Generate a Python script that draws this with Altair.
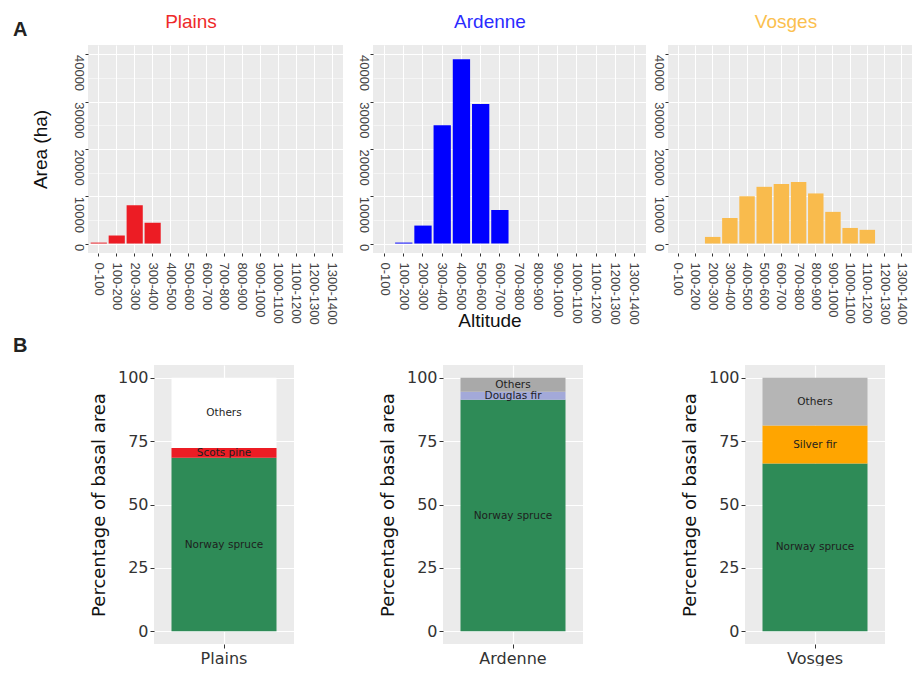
import altair as alt
import pandas as pd

# ---------------- data ----------------
altitude = ["0-100", "100-200", "200-300", "300-400", "400-500", "500-600", "600-700",
            "700-800", "800-900", "900-1000", "1000-1100", "1100-1200", "1200-1300", "1300-1400"]
plains_area = [200, 1700, 8100, 4400, 0, 0, 0, 0, 0, 0, 0, 0, 0, 0]
ardenne_area = [0, 200, 3800, 25000, 39000, 29500, 7100, 0, 0, 0, 0, 0, 0, 0]
vosges_area = [0, 0, 1400, 5400, 10000, 12000, 12600, 13000, 10600, 6700, 3300, 2900, 0, 0]
area_breaks = [0, 5000, 10000, 15000, 20000, 25000, 30000, 35000, 40000]

regions = ["Plains", "Ardenne", "Vosges"]
species_plains = ["Norway spruce", "Scots pine", "Others"]
share_plains = [68.4, 3.9, 27.7]
species_ardenne = ["Norway spruce", "Douglas fir", "Others"]
share_ardenne = [91.3, 3.2, 5.5]
species_vosges = ["Norway spruce", "Silver fir", "Others"]
share_vosges = [66.2, 14.9, 18.9]
pct_breaks = [0, 12.5, 25, 37.5, 50, 62.5, 75, 87.5, 100]

panel_letters = ["A", "B"]

# ---------------- styles ----------------
TOP_FONT = "Liberation Sans"
BOT_FONT = "DejaVu Sans"
GREEN = "#2E8B57"
TOP_H = 208
BOT_H = 279


def label_layer(text, x, y, size, color, weight="normal", font=TOP_FONT,
                align="center", baseline="middle"):
    return alt.Chart(pd.DataFrame({"t": [text]})).mark_text(
        align=align, baseline=baseline, font=font, fontSize=size,
        fontWeight=weight, color=color
    ).encode(x=alt.value(x), y=alt.value(y), text="t:N")


def letter_chart(letter, y, height):
    return label_layer(letter, 0, y, 20, "#222222", weight="bold", align="left").properties(
        width=15, height=height, view=alt.ViewBackground(opacity=0))


def hist(values, title, bar_color, title_color, width, title_x,
         y_title=None, x_title=None):
    df = pd.DataFrame({"altitude": altitude, "area": values})
    major = "datum.value % 10000 === 0"
    y_axis = dict(values=area_breaks, format="d",
                  labelExpr=f"{major} ? datum.label : ''",
                  labelAngle=90, labelAlign="left", labelBaseline="top",
                  labelPadding=1, tickSize=3, labelFlush=False, labelOverlap=False,
                  labelFont=TOP_FONT, labelFontSize=13, labelColor="#444444",
                  gridWidth={"condition": {"test": major, "value": 1.1}, "value": 0.5},
                  tickOpacity={"condition": {"test": major, "value": 1}, "value": 0})
    if y_title:
        y_axis.update(title=y_title, titleFont=TOP_FONT, titleFontSize=19,
                      titleFontWeight="normal", titleColor="#111111", titlePadding=21)
    else:
        y_axis.update(title=None)

    bars = alt.Chart(df).mark_bar(color=bar_color).encode(
        x=alt.X("altitude:N", sort=altitude,
                scale=alt.Scale(paddingInner=0.1, paddingOuter=0.15),
                axis=alt.Axis(title=None, labelAngle=90, labelAlign="left",
                              labelBaseline="middle", labelPadding=6, tickSize=3,
                              grid=True, gridWidth=1.1, labelFont=TOP_FONT,
                              labelFontSize=13, labelColor="#444444")),
        y=alt.Y("area:Q", scale=alt.Scale(domain=[-2000, 42000], nice=False, zero=False),
                axis=alt.Axis(**y_axis)),
    )
    layers = [bars, label_layer(title, title_x, -23, 19, title_color)]
    if x_title:
        layers.append(label_layer(x_title, title_x, 282, 19, "#111111",
                                  baseline="alphabetic"))
    return alt.layer(*layers).properties(width=width, height=TOP_H)


def stacked(region, species, shares, colors, y_title):
    df = pd.DataFrame({"region": region, "species": species, "share": shares})
    df["end"] = df["share"].cumsum()
    df["start"] = df["end"] - df["share"]
    df["mid"] = (df["start"] + df["end"]) / 2
    major = "datum.value % 25 === 0"
    bars = alt.Chart(df).mark_bar().encode(
        x=alt.X("region:N", scale=alt.Scale(paddingInner=0, paddingOuter=1 / 6),
                axis=alt.Axis(title=None, labelAngle=0, labelFont=BOT_FONT,
                              labelFontSize=16, labelColor="#333333", tickSize=4,
                              labelPadding=2, grid=True, gridWidth=1.2)),
        y=alt.Y("end:Q", scale=alt.Scale(domain=[-5, 105], nice=False, zero=False),
                axis=alt.Axis(values=pct_breaks, format="d",
                              labelExpr=f"{major} ? datum.label : ''",
                              title=y_title, titleFont=BOT_FONT, titleFontSize=18,
                              titleFontWeight="normal", titleColor="#111111",
                              titlePadding=9, labelFont=BOT_FONT, labelFontSize=16,
                              labelColor="#333333", labelPadding=2, tickSize=4,
                              labelFlush=False, labelOverlap=False,
                              gridWidth={"condition": {"test": major, "value": 1.2},
                                         "value": 0.6},
                              tickOpacity={"condition": {"test": major, "value": 1},
                                           "value": 0})),
        y2="start:Q",
        color=alt.Color("species:N", scale=alt.Scale(domain=species, range=colors),
                        legend=None),
    )
    labels = alt.Chart(df).mark_text(font=BOT_FONT, fontSize=10.5, color="#1e1e1e").encode(
        x="region:N", y="mid:Q", text="species:N")
    return alt.layer(bars, labels).properties(width=140, height=BOT_H)


# ---------------- panels ----------------
p_top = hist(plains_area, regions[0], "#EC1C24", "#EE2A2A", 255, 103,
             y_title="Area (ha)")
a_top = hist(ardenne_area, regions[1], "#0000FF", "#2B2BFF", 273, 117,
             x_title="Altitude")
v_top = hist(vosges_area, regions[2], "#F9BB4D", "#FBC04E", 244, 118)

top_row = alt.hconcat(
    letter_chart(panel_letters[0], -15, TOP_H),
    alt.hconcat(alt.hconcat(p_top, a_top, spacing=13), v_top, spacing=5),
    spacing=3,
)

p_bot = stacked(regions[0], species_plains, share_plains,
                [GREEN, "#EC1C24", "#FFFFFF"], "Percentage of basal area")
a_bot = stacked(regions[1], species_ardenne, share_ardenne,
                [GREEN, "#A3A9D9", "#A9A9A9"], "Percentage of basal area")
v_bot = stacked(regions[2], species_vosges, share_vosges,
                [GREEN, "#FFA500", "#B5B5B5"], "Percentage of basal area")

bottom_row = alt.hconcat(
    letter_chart(panel_letters[1], -19, BOT_H),
    alt.hconcat(
        alt.hconcat(p_bot, a_bot, spacing=85).resolve_scale(color="independent"),
        v_bot, spacing=98).resolve_scale(color="independent"),
    spacing=62,
).resolve_scale(color="independent")

chart = alt.vconcat(top_row, bottom_row, spacing=5).resolve_scale(
    color="independent"
).configure_view(
    fill="#EBEBEB", stroke=None
).configure_axis(
    domain=False, gridColor="#FFFFFF", tickColor="#333333"
).properties(
    padding={"left": 5, "top": 5, "right": 0, "bottom": 0},
    background="white",
)

chart.save("out.html", embed_options={"renderer": "svg", "actions": False})
